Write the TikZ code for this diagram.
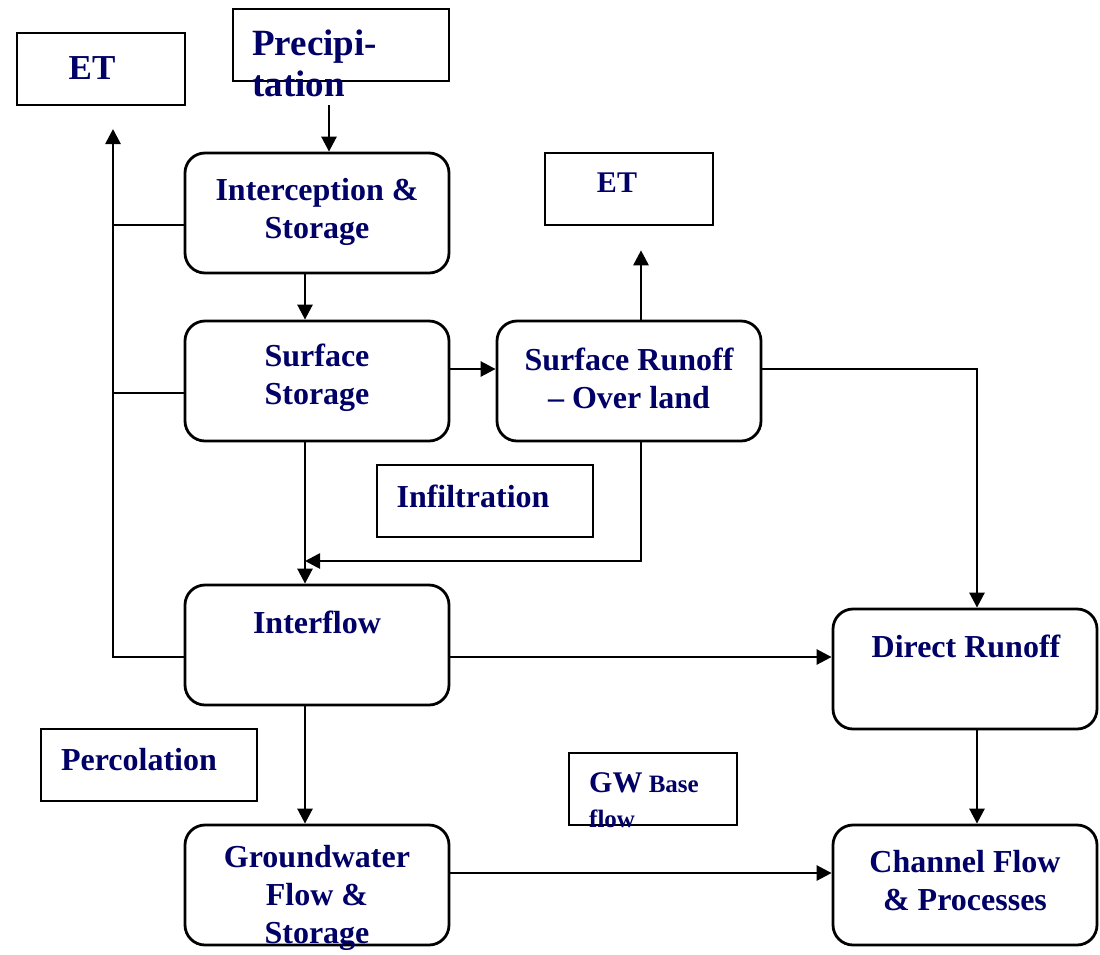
\documentclass[tikz,border=0pt]{standalone}
\usepackage{fontspec}
\setmainfont{Liberation Serif}
\usetikzlibrary{arrows.meta}
\definecolor{navy}{RGB}{0,0,102}
\begin{document}
\begin{tikzpicture}[x=1pt,y=-1pt,
  sqbox/.style={draw=black,line width=2.6pt,inner sep=0pt},
  rbox/.style={draw=black,line width=2.8pt,rounded corners=20pt,inner sep=0pt,
    minimum width=264pt,minimum height=120pt},
  txt/.style={text=navy,font=\bfseries\fontsize{32}{38}\selectfont,align=center,inner sep=0pt},
  flow/.style={-{Triangle[length=15pt,width=15pt]},line width=2.7pt,draw=black},
  tie/.style={line width=2.7pt,draw=black}
]
  \useasboundingbox (0,0) rectangle (1100,954);
  % boxes
  \node[sqbox,minimum width=168pt,minimum height=72pt] (et1) at (101,69) {};
  \node[sqbox,minimum width=216pt,minimum height=72pt] (precip) at (341,45) {};
  \node[sqbox,minimum width=168pt,minimum height=72pt] (et2) at (629,189) {};
  \node[sqbox,minimum width=216pt,minimum height=72pt] (infil) at (485,501) {};
  \node[sqbox,minimum width=216pt,minimum height=72pt] (perc) at (149,765) {};
  \node[sqbox,minimum width=168pt,minimum height=72pt] (gwbase) at (653,789) {};
  \node[rbox] (interc) at (317,213) {};
  \node[rbox] (surf) at (317,381) {};
  \node[rbox] (runoff) at (629,381) {};
  \node[rbox] (inter) at (317,645) {};
  \node[rbox] (direct) at (965,669) {};
  \node[rbox] (gw) at (317,885) {};
  \node[rbox] (chan) at (965,885) {};
  % texts
  \node[txt,font=\bfseries\fontsize{35}{40}\selectfont] (t-et1) at (92,68) {ET};
  \node[txt,font=\bfseries\fontsize{37}{41}\selectfont,align=left,anchor=north west] (t-precip) at (252,30) {Precipi-\\tation};
  \node[txt,font=\bfseries\fontsize{30}{36}\selectfont] (t-et2) at (617,183) {ET};
  \node[txt] (t-infil) at (473,496) {Infiltration};
  \node[txt] (t-perc) at (139,760) {Percolation};
  \node[txt,align=left,anchor=north west,font=\bfseries\fontsize{25}{35}\selectfont] (t-gwbase) at (589,772)
    {{\fontsize{30}{35}\selectfont GW} Base\\flow};
  \node[txt] (t-interc) at (317,212) {Interception \&\\Storage};
  \node[txt] (t-surf) at (317,378) {Surface\\Storage};
  \node[txt] (t-runoff) at (629,378) {Surface Runoff\\– Over land};
  \node[txt] (t-inter) at (317,622) {Interflow};
  \node[txt] (t-direct) at (966,646) {Direct Runoff};
  \node[txt] (t-gw) at (317,898) {Groundwater\\Flow \&\\Storage};
  \node[txt] (t-chan) at (965,881) {Channel Flow\\\& Processes};
  % connectors
  \coordinate (pin) at (329,105);
  \coordinate (etup) at (113,129);
  \coordinate (join) at (305,561);
  \draw[flow] (pin) -- (pin |- interc.north);
  \draw[flow] ([xshift=-12pt]interc.south) -- ([xshift=-12pt]surf.north);
  \draw[flow] ([yshift=12pt]surf.east) -- ([yshift=12pt]runoff.west);
  \draw[flow] ([xshift=12pt]runoff.north) -- ([xshift=12pt,yshift=-24pt]et2.south);
  \draw[flow] ([yshift=12pt]runoff.east) -| ([xshift=12pt]direct.north);
  \draw[flow] ([xshift=12pt]runoff.south) |- (join);
  \draw[flow] ([xshift=-12pt]surf.south) -- ([xshift=-12pt]inter.north);
  \draw[flow] ([yshift=-12pt]inter.east) -- ([yshift=-12pt]inter.east -| direct.west);
  \draw[flow] ([xshift=-12pt]inter.south) -- ([xshift=-12pt]gw.north);
  \draw[flow] ([yshift=12pt]gw.east) -- ([yshift=12pt]chan.west);
  \draw[flow] ([xshift=12pt]direct.south) -- ([xshift=12pt]chan.north);
  \draw[flow] ([yshift=-12pt]inter.west) -| (etup);
  \draw[tie] ([yshift=-12pt]interc.west) -- ([yshift=-12pt]interc.west -| etup);
  \draw[tie] ([yshift=-12pt]surf.west) -- ([yshift=-12pt]surf.west -| etup);
\end{tikzpicture}
\end{document}
